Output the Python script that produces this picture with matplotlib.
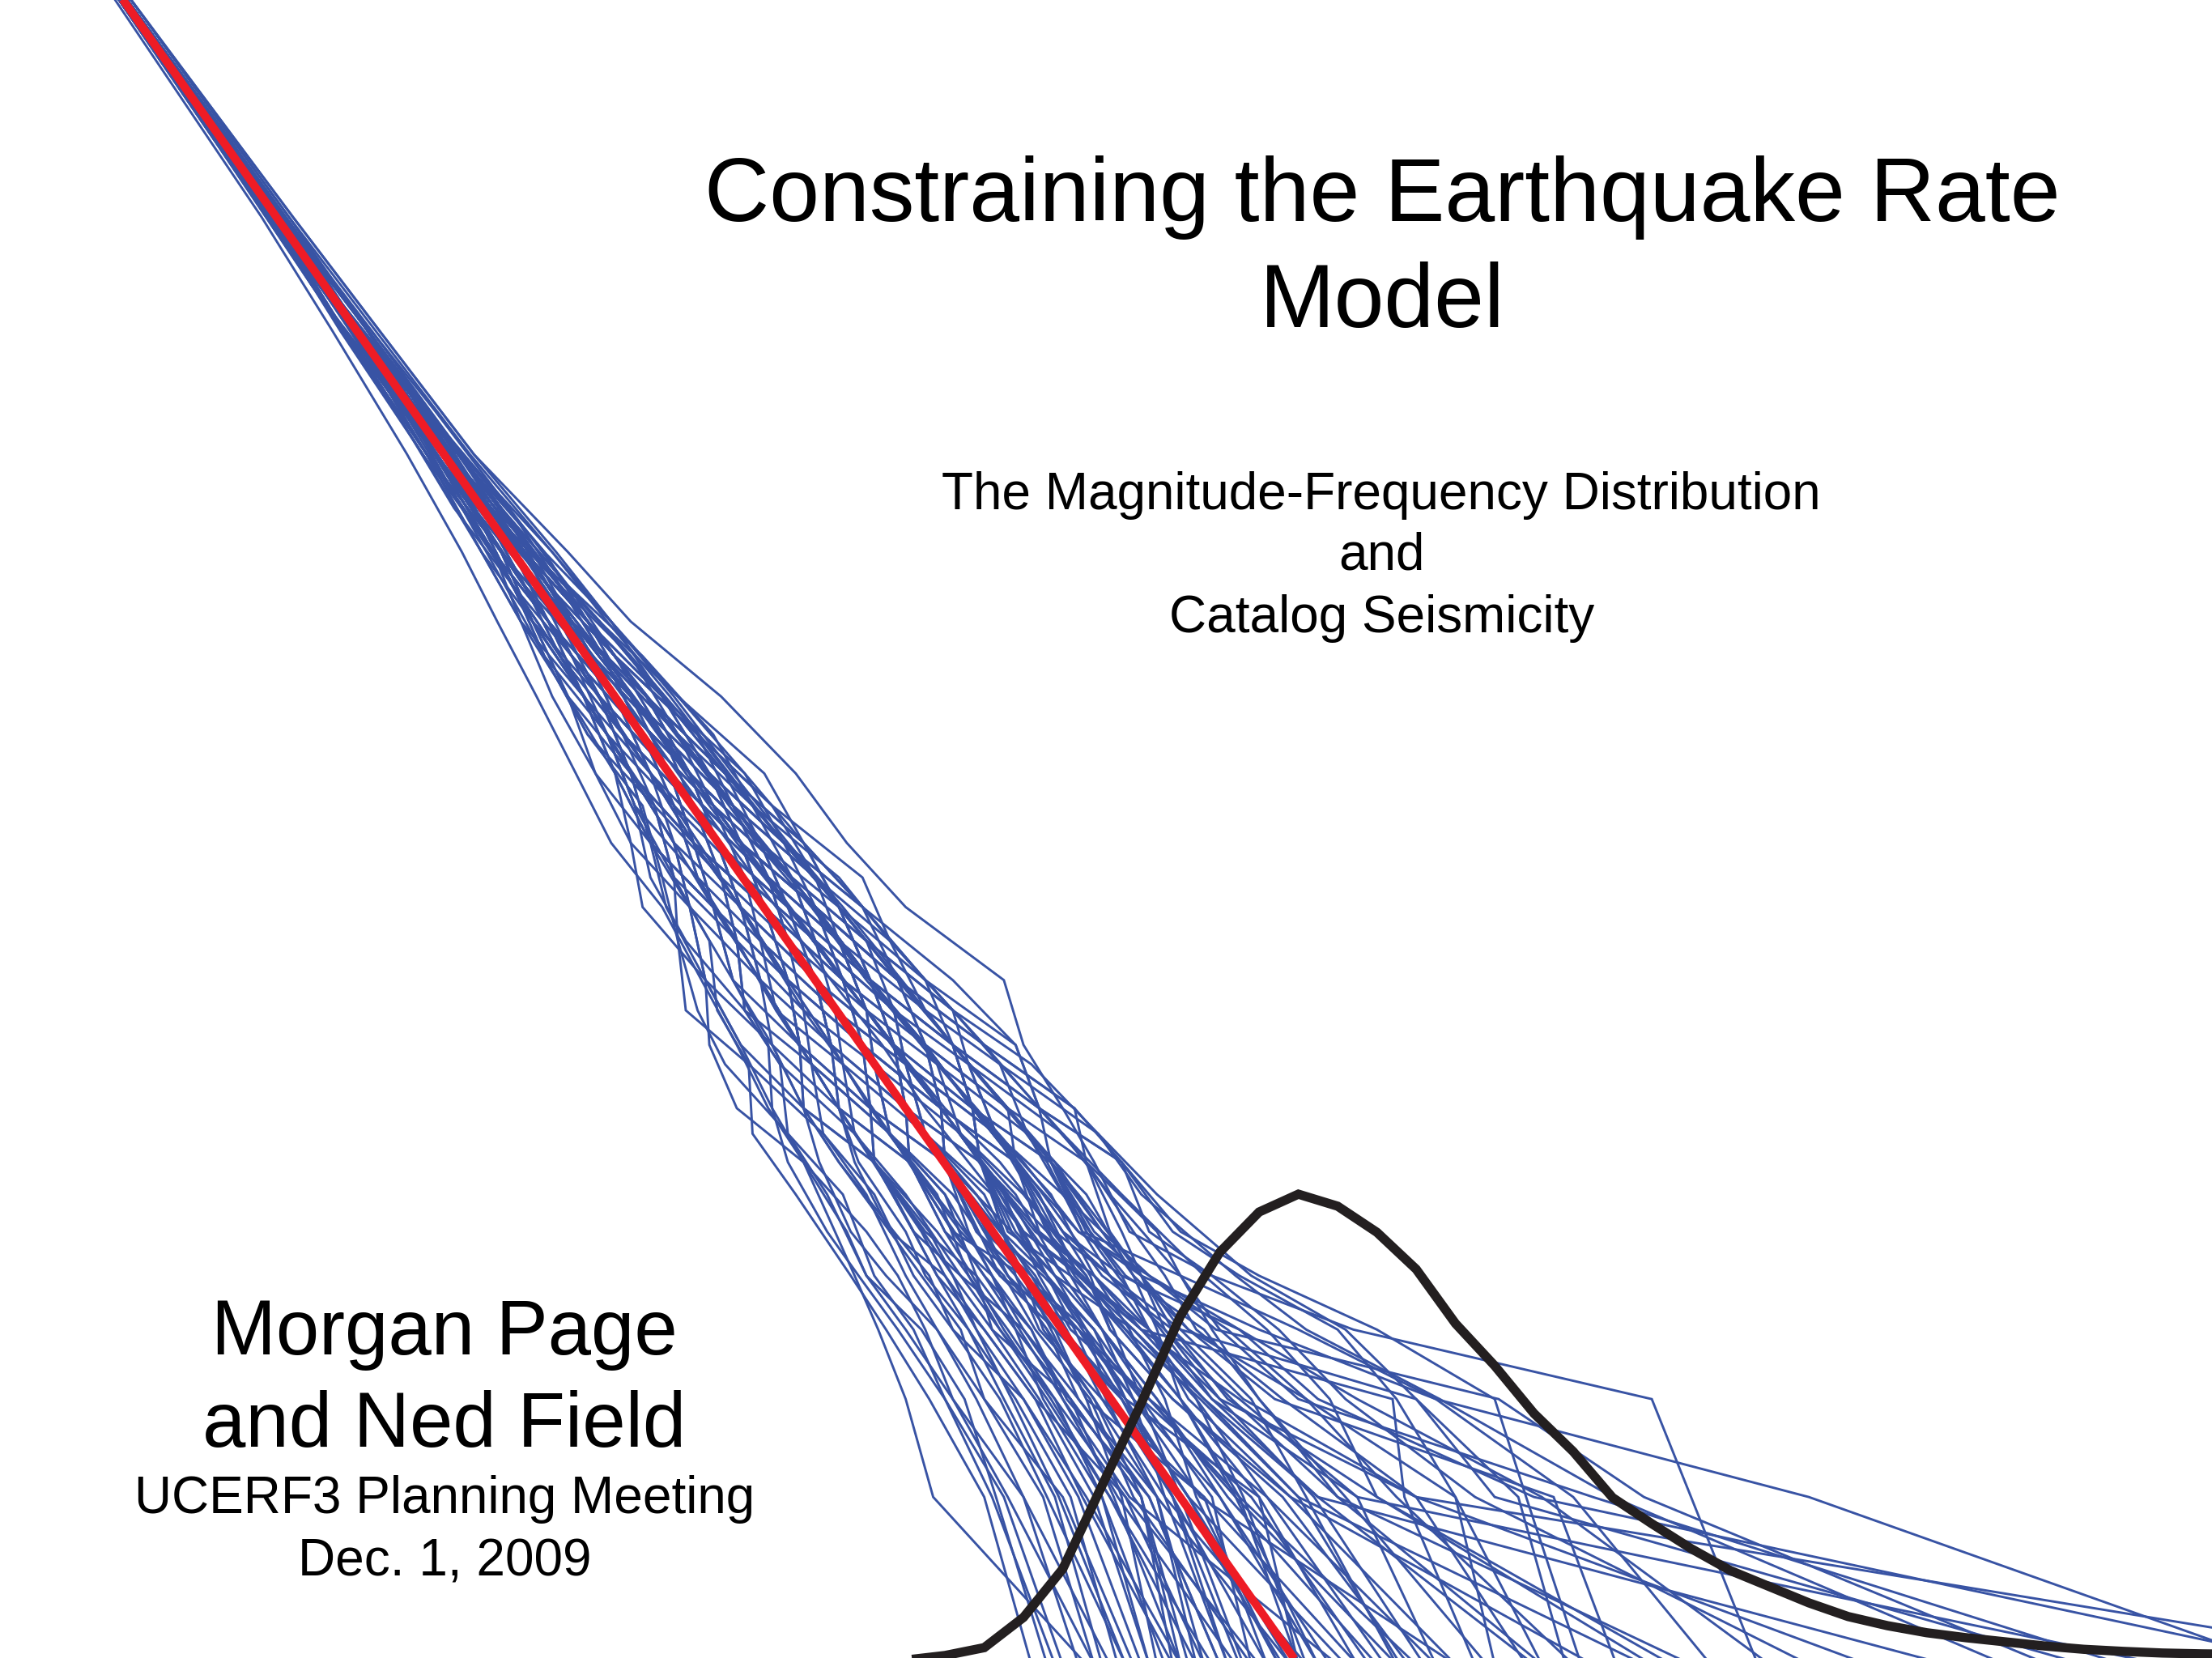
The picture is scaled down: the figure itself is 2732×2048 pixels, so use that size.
import matplotlib
matplotlib.use("Agg")
import matplotlib.pyplot as plt

# ---------------- data ----------------
# cumulative count levels (number of events >= M) at which the synthetic catalogs are sampled
COUNT_LEVELS_A = [1, 2, 3, 4, 5, 6, 8, 10, 13, 17, 23, 30, 40, 55, 75, 100, 150, 250, 400, 1000]
COUNT_LEVELS_B = [1, 2, 3, 4, 5, 7, 9, 12, 15, 20, 26, 35, 47, 65, 87, 120, 180, 300, 550, 1000]

# magnitude of the k-th largest event in each simulated catalog (group A, sampled at COUNT_LEVELS_A)
cat_a = [6.17, 6.00, 5.90, 5.14, 4.78, 4.57, 4.48, 4.40, 4.30, 4.25, 4.00, 3.85, 3.72, 3.53, 3.30, 3.14, 2.90, 2.66, 2.44, 2.02]
cat_b = [6.91, 5.88, 5.51, 4.79, 4.62, 4.50, 4.38, 4.26, 4.12, 3.99, 3.84, 3.70, 3.56, 3.41, 3.25, 3.11, 2.90, 2.66, 2.44, 2.02]
cat_c = [5.81, 5.65, 4.94, 4.72, 4.60, 4.44, 4.30, 4.18, 4.04, 3.90, 3.76, 3.62, 3.49, 3.34, 3.19, 3.05, 2.86, 2.63, 2.42, 2.01]
cat_d = [5.68, 5.56, 5.30, 4.70, 4.52, 4.38, 4.24, 4.10, 3.97, 3.84, 3.70, 3.57, 3.44, 3.30, 3.15, 3.03, 2.84, 2.61, 2.41, 2.01]
cat_e = [5.45, 5.27, 5.24, 4.60, 4.45, 4.30, 4.16, 4.05, 3.94, 3.81, 3.67, 3.55, 3.42, 3.28, 3.14, 3.02, 2.83, 2.61, 2.40, 2.00]
cat_f = [7.60, 5.60, 5.05, 4.85, 4.55, 4.40, 4.28, 4.17, 4.05, 3.91, 3.77, 3.63, 3.50, 3.34, 3.19, 3.05, 2.86, 2.63, 2.42, 2.01]
cat_g = [7.90, 5.30, 4.80, 4.62, 4.48, 4.33, 4.19, 4.09, 3.97, 3.84, 3.70, 3.58, 3.45, 3.30, 3.15, 3.03, 2.84, 2.61, 2.41, 2.01]
cat_h = [7.50, 6.30, 5.35, 5.00, 4.70, 4.45, 4.36, 4.26, 4.12, 3.98, 3.83, 3.69, 3.55, 3.40, 3.24, 3.10, 2.89, 2.65, 2.43, 2.02]
cat_i = [4.46, 4.07, 4.00, 3.93, 3.87, 3.82, 3.74, 3.65, 3.57, 3.48, 3.38, 3.25, 3.16, 3.06, 2.96, 2.87, 2.73, 2.54, 2.36, 1.98]
cat01 = [5.05, 4.80, 4.58, 4.45, 4.36, 4.30, 4.19, 4.09, 3.89, 3.77, 3.70, 3.58, 3.50, 3.34, 3.15, 3.03, 2.82, 2.60, 2.41, 2.01]
cat02 = [4.78, 4.52, 4.37, 4.25, 4.17, 4.10, 4.01, 3.83, 3.73, 3.70, 3.58, 3.52, 3.40, 3.22, 3.09, 2.95, 2.78, 2.59, 2.40, 2.00]
cat03 = [5.62, 5.10, 4.83, 4.66, 4.52, 4.45, 4.37, 4.26, 4.05, 3.91, 3.83, 3.69, 3.50, 3.34, 3.19, 3.03, 2.84, 2.63, 2.42, 2.01]
cat04 = [4.60, 4.44, 4.30, 4.12, 4.06, 3.97, 3.83, 3.74, 3.73, 3.63, 3.45, 3.41, 3.30, 3.22, 3.09, 3.00, 2.82, 2.59, 2.39, 1.99]
cat05 = [4.92, 4.76, 4.50, 4.41, 4.33, 4.24, 4.10, 4.09, 3.97, 3.91, 3.77, 3.58, 3.45, 3.26, 3.15, 3.05, 2.86, 2.61, 2.40, 2.00]
cat06 = [5.58, 5.30, 4.96, 4.74, 4.66, 4.58, 4.46, 4.34, 4.12, 3.98, 3.77, 3.63, 3.54, 3.38, 3.19, 3.05, 2.84, 2.61, 2.41, 2.01]
cat07 = [4.70, 4.60, 4.42, 4.30, 4.14, 4.02, 3.92, 3.91, 3.81, 3.63, 3.51, 3.35, 3.26, 3.18, 3.05, 2.97, 2.80, 2.60, 2.40, 1.99]
cat08 = [5.30, 4.85, 4.62, 4.50, 4.42, 4.26, 4.19, 4.00, 3.89, 3.70, 3.64, 3.58, 3.45, 3.26, 3.09, 2.97, 2.78, 2.57, 2.39, 2.00]
cat09 = [5.15, 4.90, 4.70, 4.55, 4.43, 4.36, 4.28, 4.17, 4.12, 3.98, 3.89, 3.74, 3.54, 3.38, 3.22, 3.05, 2.86, 2.61, 2.41, 2.00]
cat10 = [4.52, 4.30, 4.12, 4.05, 3.98, 3.90, 3.74, 3.66, 3.65, 3.56, 3.51, 3.41, 3.30, 3.14, 3.02, 2.95, 2.80, 2.59, 2.38, 1.99]
cat11 = [4.85, 4.68, 4.55, 4.38, 4.28, 4.18, 4.10, 4.00, 3.97, 3.84, 3.64, 3.46, 3.35, 3.26, 3.15, 3.03, 2.82, 2.60, 2.40, 2.01]
cat12 = [6.30, 5.45, 5.12, 4.95, 4.78, 4.62, 4.55, 4.34, 4.20, 4.05, 3.83, 3.69, 3.50, 3.34, 3.15, 3.03, 2.84, 2.60, 2.40, 2.00]
cat13 = [4.88, 4.58, 4.47, 4.33, 4.25, 4.14, 4.01, 3.91, 3.73, 3.56, 3.45, 3.30, 3.21, 3.14, 3.05, 2.95, 2.80, 2.59, 2.40, 2.00]
cat14 = [5.40, 4.98, 4.68, 4.52, 4.47, 4.40, 4.28, 4.09, 3.97, 3.77, 3.64, 3.52, 3.45, 3.34, 3.19, 3.08, 2.87, 2.63, 2.42, 2.01]
cat15 = [4.74, 4.64, 4.44, 4.36, 4.26, 4.20, 4.10, 3.91, 3.81, 3.77, 3.64, 3.46, 3.30, 3.18, 3.02, 2.92, 2.78, 2.57, 2.39, 1.99]
cat16 = [5.25, 5.02, 4.88, 4.70, 4.60, 4.48, 4.37, 4.34, 4.28, 4.05, 3.89, 3.69, 3.54, 3.34, 3.19, 3.03, 2.82, 2.60, 2.41, 2.01]
cat17 = [4.62, 4.48, 4.34, 4.22, 4.18, 4.05, 3.92, 3.74, 3.58, 3.49, 3.33, 3.30, 3.26, 3.14, 3.05, 2.95, 2.78, 2.59, 2.39, 1.99]
cat18 = [5.02, 4.86, 4.74, 4.58, 4.38, 4.28, 4.19, 4.17, 4.05, 3.84, 3.70, 3.63, 3.50, 3.30, 3.12, 3.00, 2.84, 2.61, 2.40, 1.99]
cat19 = [5.10, 4.57, 4.40, 4.29, 4.20, 4.12, 4.01, 4.00, 3.89, 3.70, 3.51, 3.46, 3.40, 3.30, 3.12, 2.97, 2.80, 2.60, 2.41, 2.01]
cat20 = [5.95, 5.20, 4.82, 4.68, 4.60, 4.55, 4.46, 4.26, 4.12, 3.91, 3.77, 3.58, 3.45, 3.30, 3.15, 3.00, 2.82, 2.59, 2.39, 2.00]
cat21 = [4.50, 4.38, 4.25, 4.16, 4.05, 4.00, 3.88, 3.83, 3.73, 3.70, 3.58, 3.46, 3.30, 3.18, 3.09, 2.97, 2.82, 2.60, 2.39, 1.99]
cat22 = [4.95, 4.74, 4.66, 4.57, 4.48, 4.34, 4.19, 4.09, 4.05, 3.98, 3.83, 3.63, 3.45, 3.30, 3.19, 3.08, 2.87, 2.64, 2.42, 2.01]
cat23 = [4.40, 4.25, 4.10, 3.98, 3.88, 3.80, 3.70, 3.66, 3.58, 3.49, 3.45, 3.35, 3.30, 3.18, 3.05, 2.92, 2.77, 2.57, 2.38, 1.99]
cat24 = [7.20, 5.15, 4.78, 4.62, 4.52, 4.40, 4.28, 4.26, 4.12, 3.91, 3.70, 3.58, 3.40, 3.26, 3.12, 3.03, 2.84, 2.60, 2.40, 2.00]
cat25 = [4.80, 4.62, 4.41, 4.32, 4.22, 4.16, 4.10, 4.00, 3.81, 3.70, 3.58, 3.52, 3.45, 3.34, 3.19, 3.03, 2.82, 2.60, 2.40, 2.00]
cat26 = [5.50, 5.40, 5.25, 5.10, 4.85, 4.68, 4.55, 4.43, 4.20, 3.98, 3.83, 3.69, 3.59, 3.42, 3.22, 3.05, 2.86, 2.63, 2.41, 2.01]
cat27 = [4.68, 4.45, 4.33, 4.20, 4.10, 4.04, 3.92, 3.83, 3.81, 3.77, 3.64, 3.46, 3.35, 3.18, 3.05, 2.97, 2.80, 2.59, 2.38, 1.99]
cat28 = [5.75, 4.98, 4.72, 4.62, 4.44, 4.30, 4.19, 4.00, 3.81, 3.70, 3.64, 3.58, 3.50, 3.38, 3.22, 3.05, 2.84, 2.60, 2.40, 2.00]
cat29 = [4.66, 4.50, 4.35, 4.28, 4.22, 4.10, 4.01, 3.83, 3.66, 3.56, 3.51, 3.46, 3.40, 3.26, 3.15, 3.03, 2.84, 2.61, 2.40, 1.99]
cat30 = [5.35, 5.15, 4.85, 4.60, 4.44, 4.38, 4.28, 4.17, 3.97, 3.84, 3.77, 3.63, 3.45, 3.26, 3.12, 2.97, 2.80, 2.59, 2.40, 2.01]
cat31 = [4.96, 4.70, 4.60, 4.48, 4.35, 4.22, 4.10, 4.09, 4.05, 3.91, 3.70, 3.52, 3.40, 3.22, 3.09, 3.00, 2.84, 2.63, 2.42, 2.01]
cat32 = [4.58, 4.40, 4.20, 4.08, 3.95, 3.86, 3.78, 3.74, 3.66, 3.63, 3.51, 3.35, 3.21, 3.10, 3.02, 2.92, 2.78, 2.57, 2.39, 2.00]
cat33 = [6.65, 5.05, 4.78, 4.65, 4.54, 4.46, 4.37, 4.17, 4.05, 3.91, 3.83, 3.74, 3.64, 3.42, 3.25, 3.08, 2.86, 2.63, 2.41, 2.01]
cat34 = [4.92, 4.68, 4.52, 4.46, 4.38, 4.27, 4.10, 3.91, 3.73, 3.63, 3.58, 3.52, 3.40, 3.26, 3.09, 2.95, 2.78, 2.59, 2.39, 2.00]
cat35 = [5.20, 4.82, 4.64, 4.50, 4.40, 4.32, 4.19, 4.17, 4.12, 4.05, 3.89, 3.74, 3.54, 3.34, 3.15, 3.03, 2.82, 2.59, 2.39, 1.99]
cat36 = [4.54, 4.42, 4.28, 4.16, 4.08, 4.02, 3.92, 3.74, 3.66, 3.49, 3.39, 3.35, 3.30, 3.22, 3.09, 2.97, 2.78, 2.57, 2.38, 1.99]
cat37 = [7.10, 5.75, 5.00, 4.80, 4.70, 4.64, 4.46, 4.34, 4.28, 4.12, 3.89, 3.69, 3.50, 3.34, 3.19, 3.05, 2.86, 2.61, 2.41, 2.00]
cat38 = [4.72, 4.60, 4.48, 4.35, 4.30, 4.21, 4.10, 4.00, 3.89, 3.84, 3.70, 3.52, 3.35, 3.22, 3.12, 3.00, 2.84, 2.60, 2.39, 1.99]
cat39 = [4.48, 4.35, 4.20, 4.14, 4.04, 3.96, 3.87, 3.83, 3.81, 3.77, 3.64, 3.58, 3.45, 3.26, 3.12, 3.00, 2.80, 2.59, 2.40, 2.01]
cat40 = [5.88, 5.00, 4.75, 4.56, 4.45, 4.34, 4.28, 4.09, 3.89, 3.77, 3.70, 3.63, 3.50, 3.38, 3.25, 3.10, 2.87, 2.63, 2.42, 2.01]
cat41 = [5.12, 4.72, 4.55, 4.40, 4.30, 4.25, 4.19, 4.09, 3.97, 3.77, 3.58, 3.41, 3.30, 3.22, 3.12, 3.03, 2.84, 2.60, 2.40, 2.00]
cat42 = [4.82, 4.66, 4.58, 4.44, 4.24, 4.15, 4.01, 4.00, 3.97, 3.84, 3.70, 3.52, 3.40, 3.30, 3.19, 3.05, 2.84, 2.61, 2.42, 2.01]
cat43 = [5.05, 4.84, 4.70, 4.64, 4.58, 4.50, 4.37, 4.26, 4.05, 3.84, 3.70, 3.58, 3.40, 3.26, 3.15, 3.03, 2.86, 2.63, 2.43, 2.02]
cat44 = [4.36, 4.23, 4.15, 4.04, 3.90, 3.85, 3.74, 3.57, 3.50, 3.49, 3.45, 3.41, 3.35, 3.22, 3.05, 2.95, 2.77, 2.56, 2.38, 1.99]
cat45 = [5.22, 4.92, 4.62, 4.44, 4.30, 4.18, 4.10, 4.09, 3.97, 3.91, 3.83, 3.74, 3.59, 3.38, 3.19, 3.03, 2.84, 2.61, 2.41, 2.00]
cat46 = [6.05, 5.70, 5.35, 4.90, 4.60, 4.52, 4.46, 4.43, 4.20, 3.98, 3.77, 3.63, 3.50, 3.30, 3.15, 3.03, 2.82, 2.60, 2.40, 2.00]
cat47 = [4.76, 4.56, 4.38, 4.24, 4.16, 4.08, 3.92, 3.83, 3.73, 3.70, 3.51, 3.35, 3.26, 3.18, 3.09, 3.00, 2.82, 2.59, 2.39, 2.00]
cat48 = [4.88, 4.78, 4.60, 4.53, 4.46, 4.36, 4.19, 4.17, 4.05, 3.98, 3.77, 3.58, 3.40, 3.22, 3.09, 2.95, 2.80, 2.60, 2.40, 2.00]
cat49 = [5.70, 5.25, 5.02, 4.82, 4.62, 4.44, 4.28, 4.17, 4.12, 3.98, 3.77, 3.58, 3.45, 3.34, 3.19, 3.05, 2.84, 2.60, 2.39, 1.99]
cat50 = [4.64, 4.55, 4.46, 4.37, 4.30, 4.12, 4.01, 3.91, 3.89, 3.77, 3.58, 3.46, 3.30, 3.18, 3.05, 2.97, 2.82, 2.61, 2.41, 2.01]
cat51 = [5.00, 4.90, 4.56, 4.40, 4.32, 4.20, 4.10, 4.00, 3.97, 3.91, 3.77, 3.58, 3.40, 3.26, 3.12, 3.00, 2.82, 2.61, 2.41, 2.01]
cat52 = [6.00, 5.10, 4.90, 4.76, 4.56, 4.47, 4.37, 4.17, 3.97, 3.84, 3.64, 3.46, 3.35, 3.26, 3.12, 3.03, 2.86, 2.63, 2.41, 2.00]
cat53 = [4.56, 4.39, 4.27, 4.18, 4.10, 3.96, 3.83, 3.74, 3.73, 3.63, 3.58, 3.46, 3.40, 3.26, 3.09, 2.97, 2.80, 2.57, 2.38, 1.99]
cat54 = [4.98, 4.64, 4.51, 4.43, 4.36, 4.27, 4.19, 4.09, 3.89, 3.77, 3.64, 3.52, 3.45, 3.30, 3.15, 3.00, 2.80, 2.57, 2.38, 1.99]
cat55 = [5.72, 5.58, 5.50, 5.20, 4.90, 4.70, 4.55, 4.34, 4.12, 3.91, 3.77, 3.69, 3.54, 3.34, 3.19, 3.03, 2.84, 2.61, 2.42, 2.01]
cat56 = [4.70, 4.53, 4.42, 4.22, 4.12, 4.06, 3.92, 3.91, 3.89, 3.84, 3.77, 3.63, 3.45, 3.26, 3.09, 2.97, 2.80, 2.60, 2.40, 2.00]

# group B, sampled at COUNT_LEVELS_B
catb01 = [4.95, 4.72, 4.55, 4.44, 4.32, 4.18, 4.05, 4.00, 3.90, 3.83, 3.65, 3.46, 3.33, 3.23, 3.12, 2.97, 2.77, 2.53, 2.26, 2.00]
catb02 = [4.70, 4.46, 4.30, 4.18, 4.12, 3.98, 3.87, 3.76, 3.74, 3.63, 3.47, 3.31, 3.24, 3.15, 3.03, 2.92, 2.75, 2.51, 2.25, 2.00]
catb03 = [5.35, 4.92, 4.74, 4.62, 4.55, 4.40, 4.31, 4.08, 3.97, 3.77, 3.65, 3.56, 3.47, 3.30, 3.12, 2.94, 2.75, 2.52, 2.27, 2.01]
catb04 = [4.80, 4.62, 4.44, 4.30, 4.22, 4.10, 3.96, 3.92, 3.82, 3.77, 3.71, 3.56, 3.38, 3.19, 3.03, 2.90, 2.72, 2.49, 2.25, 1.99]
catb05 = [5.48, 5.12, 4.90, 4.78, 4.70, 4.52, 4.40, 4.24, 4.05, 3.90, 3.71, 3.56, 3.38, 3.23, 3.09, 2.97, 2.78, 2.53, 2.27, 2.00]
catb06 = [4.38, 4.22, 4.10, 4.02, 3.92, 3.84, 3.70, 3.68, 3.59, 3.57, 3.47, 3.41, 3.28, 3.12, 3.00, 2.87, 2.73, 2.52, 2.26, 2.00]
catb07 = [5.18, 4.88, 4.60, 4.46, 4.36, 4.24, 4.14, 4.00, 3.82, 3.70, 3.65, 3.56, 3.42, 3.26, 3.09, 2.92, 2.75, 2.53, 2.28, 2.01]
catb08 = [6.45, 5.30, 4.86, 4.68, 4.50, 4.35, 4.23, 4.16, 4.12, 3.96, 3.89, 3.66, 3.47, 3.26, 3.12, 2.97, 2.77, 2.53, 2.26, 2.00]
catb09 = [4.62, 4.50, 4.38, 4.26, 4.16, 4.08, 3.96, 3.76, 3.59, 3.44, 3.35, 3.31, 3.24, 3.12, 3.03, 2.90, 2.75, 2.52, 2.25, 1.99]
catb10 = [5.02, 4.66, 4.50, 4.34, 4.28, 4.22, 4.05, 3.92, 3.90, 3.77, 3.59, 3.46, 3.28, 3.19, 3.09, 2.94, 2.78, 2.55, 2.27, 2.01]
catb11 = [6.80, 5.80, 5.36, 5.02, 4.84, 4.60, 4.49, 4.32, 4.12, 3.90, 3.77, 3.56, 3.42, 3.30, 3.14, 2.97, 2.77, 2.53, 2.27, 2.01]
catb12 = [4.56, 4.36, 4.24, 4.12, 4.02, 3.92, 3.79, 3.76, 3.67, 3.57, 3.53, 3.46, 3.33, 3.15, 3.00, 2.85, 2.70, 2.49, 2.24, 1.99]
catb13 = [5.08, 4.80, 4.64, 4.50, 4.40, 4.28, 4.14, 4.08, 3.97, 3.90, 3.77, 3.61, 3.42, 3.23, 3.06, 2.92, 2.77, 2.53, 2.26, 2.00]
catb14 = [5.60, 5.05, 4.76, 4.58, 4.44, 4.34, 4.23, 4.00, 3.82, 3.63, 3.53, 3.46, 3.38, 3.23, 3.06, 2.90, 2.73, 2.52, 2.26, 2.01]
catb15 = [4.90, 4.56, 4.33, 4.20, 4.08, 3.97, 3.87, 3.84, 3.82, 3.70, 3.53, 3.36, 3.19, 3.08, 3.00, 2.90, 2.73, 2.51, 2.26, 2.00]
catb16 = [5.62, 5.40, 5.02, 4.72, 4.58, 4.46, 4.31, 4.24, 4.12, 3.90, 3.71, 3.51, 3.38, 3.26, 3.14, 2.99, 2.78, 2.55, 2.28, 2.01]
catb17 = [4.76, 4.64, 4.48, 4.36, 4.26, 4.16, 4.05, 3.84, 3.74, 3.70, 3.65, 3.51, 3.33, 3.15, 3.03, 2.92, 2.77, 2.53, 2.27, 2.00]
catb18 = [4.32, 4.20, 4.06, 3.95, 3.86, 3.72, 3.61, 3.60, 3.52, 3.50, 3.41, 3.31, 3.24, 3.12, 3.00, 2.90, 2.73, 2.49, 2.24, 1.99]
catb19 = [5.28, 4.96, 4.68, 4.52, 4.46, 4.30, 4.14, 4.00, 3.97, 3.83, 3.71, 3.51, 3.33, 3.19, 3.09, 2.97, 2.78, 2.53, 2.26, 1.99]
catb20 = [5.00, 4.85, 4.70, 4.56, 4.42, 4.32, 4.23, 4.08, 3.90, 3.77, 3.71, 3.61, 3.51, 3.33, 3.14, 2.97, 2.77, 2.52, 2.26, 2.00]
catb21 = [4.84, 4.54, 4.40, 4.32, 4.20, 4.06, 3.96, 3.84, 3.67, 3.57, 3.41, 3.36, 3.28, 3.19, 3.06, 2.90, 2.72, 2.51, 2.26, 2.01]
catb22 = [5.90, 5.20, 5.08, 4.92, 4.76, 4.55, 4.40, 4.16, 3.97, 3.83, 3.65, 3.51, 3.42, 3.26, 3.12, 2.94, 2.75, 2.53, 2.27, 2.01]
catb23 = [5.15, 4.76, 4.46, 4.38, 4.24, 4.14, 4.05, 3.92, 3.74, 3.57, 3.47, 3.41, 3.28, 3.15, 3.06, 2.92, 2.75, 2.51, 2.25, 1.99]
catb24 = [4.44, 4.30, 4.18, 4.08, 4.00, 3.90, 3.79, 3.60, 3.44, 3.42, 3.41, 3.36, 3.24, 3.08, 2.98, 2.87, 2.72, 2.51, 2.25, 1.99]
catb25 = [6.20, 5.62, 5.15, 4.85, 4.62, 4.40, 4.23, 4.16, 4.05, 3.83, 3.65, 3.46, 3.33, 3.23, 3.09, 2.94, 2.75, 2.52, 2.26, 2.00]
catb26 = [4.86, 4.70, 4.52, 4.40, 4.26, 4.12, 3.96, 3.92, 3.90, 3.83, 3.71, 3.56, 3.42, 3.23, 3.09, 2.92, 2.75, 2.53, 2.27, 2.01]
catb27 = [5.25, 4.84, 4.62, 4.42, 4.34, 4.25, 4.14, 3.92, 3.82, 3.70, 3.59, 3.41, 3.24, 3.12, 3.03, 2.92, 2.77, 2.52, 2.25, 2.00]
catb28 = [5.32, 5.04, 4.80, 4.66, 4.60, 4.44, 4.31, 4.16, 4.05, 3.96, 3.83, 3.61, 3.47, 3.26, 3.12, 2.94, 2.77, 2.55, 2.28, 2.01]
catb29 = [4.74, 4.52, 4.36, 4.24, 4.14, 4.00, 3.87, 3.68, 3.59, 3.57, 3.53, 3.41, 3.33, 3.23, 3.09, 2.92, 2.73, 2.51, 2.24, 1.99]
catb30 = [4.98, 4.72, 4.56, 4.46, 4.30, 4.20, 4.05, 4.00, 3.97, 3.77, 3.59, 3.46, 3.38, 3.26, 3.12, 2.99, 2.80, 2.55, 2.27, 2.00]
catb31 = [7.00, 5.50, 5.30, 5.12, 4.88, 4.64, 4.49, 4.24, 4.12, 3.96, 3.77, 3.56, 3.38, 3.19, 3.06, 2.92, 2.75, 2.52, 2.27, 2.01]
catb32 = [4.68, 4.60, 4.42, 4.28, 4.18, 4.10, 3.96, 3.76, 3.67, 3.63, 3.59, 3.46, 3.28, 3.12, 3.00, 2.90, 2.75, 2.52, 2.26, 2.00]
catb33 = [5.40, 4.75, 4.58, 4.50, 4.38, 4.26, 4.14, 4.00, 3.90, 3.70, 3.59, 3.51, 3.38, 3.19, 3.06, 2.94, 2.77, 2.52, 2.26, 2.00]
catb34 = [4.48, 4.26, 4.12, 4.00, 3.90, 3.80, 3.70, 3.54, 3.47, 3.42, 3.38, 3.33, 3.19, 3.08, 3.00, 2.87, 2.73, 2.51, 2.25, 1.99]
catb35 = [5.26, 5.00, 4.76, 4.60, 4.48, 4.37, 4.23, 4.00, 3.90, 3.83, 3.77, 3.66, 3.47, 3.26, 3.09, 2.92, 2.75, 2.52, 2.26, 2.00]
catb36 = [4.82, 4.68, 4.56, 4.48, 4.36, 4.15, 4.05, 3.92, 3.82, 3.63, 3.53, 3.41, 3.33, 3.23, 3.12, 2.97, 2.77, 2.53, 2.28, 2.01]

CATALOGS_A = [cat_a, cat_b, cat_c, cat_d, cat_e, cat_f, cat_g, cat_h, cat_i,
              cat01, cat02, cat03, cat04, cat05, cat06, cat07, cat08, cat09, cat10,
              cat11, cat12, cat13, cat14, cat15, cat16, cat17, cat18, cat19, cat20,
              cat21, cat22, cat23, cat24, cat25, cat26, cat27, cat28, cat29, cat30,
              cat31, cat32, cat33, cat34, cat35, cat36, cat37, cat38, cat39, cat40,
              cat41, cat42, cat43, cat44, cat45, cat46, cat47, cat48, cat49, cat50,
              cat51, cat52, cat53, cat54, cat55, cat56]
CATALOGS_B = [catb01, catb02, catb03, catb04, catb05, catb06, catb07, catb08, catb09,
              catb10, catb11, catb12, catb13, catb14, catb15, catb16, catb17, catb18,
              catb19, catb20, catb21, catb22, catb23, catb24, catb25, catb26, catb27,
              catb28, catb29, catb30, catb31, catb32, catb33, catb34, catb35, catb36]

# Gutenberg-Richter model line (end points)
GR_MAG = [1.60, 5.10]
GR_COUNT = [2512.0, 0.794]

# probability density of the catalog maximum magnitude
PDF_MAG = [4.0, 4.1, 4.2, 4.3, 4.4, 4.5, 4.6, 4.7, 4.8, 4.9, 5.0, 5.1, 5.2, 5.3, 5.4, 5.5, 5.6,
           5.7, 5.8, 5.9, 6.0, 6.1, 6.2, 6.3, 6.4, 6.5, 6.6, 6.7, 6.8, 6.9, 7.0, 7.1, 7.2, 7.3, 7.4]
PDF_VAL = [-0.005, 0.006, 0.025, 0.098, 0.215, 0.416, 0.615, 0.826, 0.979, 1.076, 1.119, 1.090,
           1.027, 0.938, 0.807, 0.705, 0.590, 0.498, 0.387, 0.324, 0.264, 0.211, 0.172, 0.133,
           0.100, 0.078, 0.061, 0.049, 0.039, 0.029, 0.021, 0.016, 0.012, 0.010, 0.009]

TITLE_LINES = ["Constraining the Earthquake Rate", "Model"]
SUBTITLE_LINES = ["The Magnitude-Frequency Distribution", "and", "Catalog Seismicity"]
AUTHOR_LINES = ["Morgan Page", "and Ned Field"]
EVENT_LINES = ["UCERF3 Planning Meeting", "Dec. 1, 2009"]

# ---------------- styling ----------------
BLUE = "#3853A4"
RED = "#EE1C25"
BLACK = "#231F20"
FONT = ["Liberation Sans", "DejaVu Sans"]

fig = plt.figure(figsize=(27.32, 20.48), dpi=100)
fig.patch.set_facecolor("white")
ax = fig.add_axes([0, 0, 1, 1])
ax.set_yscale("log")
ax.set_xlim(1.6936, 7.3266)
ax.set_ylim(10 ** 0.0116, 10 ** 2.9927)
ax.axis("off")

for levels, group in ((COUNT_LEVELS_A, CATALOGS_A), (COUNT_LEVELS_B, CATALOGS_B)):
    for cat in group:
        n = min(len(cat), len(levels))
        ax.plot(cat[:n], levels[:n], color=BLUE, lw=2.1, zorder=1, solid_joinstyle="miter")

ax.plot(GR_MAG, GR_COUNT, color=RED, lw=7.2, zorder=3, solid_capstyle="butt")

ax2 = ax.twinx()
ax2.set_position([0, 0, 1, 1])
ax2.set_ylim(0, 4.0)
ax2.set_xlim(1.6936, 7.3266)
ax2.axis("off")
ax2.plot(PDF_MAG, PDF_VAL, color=BLACK, lw=8.2, zorder=4, solid_joinstyle="miter")

fig.text(0.625, 0.8665, TITLE_LINES[0], ha="center", va="baseline", fontsize=80, family=FONT)
fig.text(0.625, 0.8027, TITLE_LINES[1], ha="center", va="baseline", fontsize=80, family=FONT)

for txt, yb in zip(SUBTITLE_LINES, [0.6929, 0.6563, 0.6188]):
    fig.text(0.6245, yb, txt, ha="center", va="baseline", fontsize=46, family=FONT)

for txt, yb in zip(AUTHOR_LINES, [0.1833, 0.1272]):
    fig.text(0.2009, yb, txt, ha="center", va="baseline", fontsize=69, family=FONT)

for txt, yb in zip(EVENT_LINES, [0.0872, 0.0498]):
    fig.text(0.2009, yb, txt, ha="center", va="baseline", fontsize=46, family=FONT)

fig.savefig("out.png", dpi=100, facecolor="white")
